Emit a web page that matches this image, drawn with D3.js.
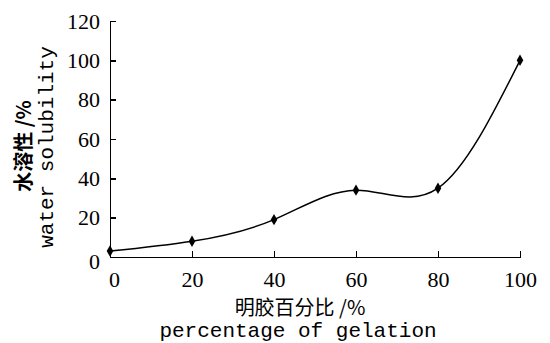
<!DOCTYPE html>
<meta charset="utf-8">
<style>
    body { margin: 0; background: #fff; }
    .axis path, .axis line { fill: none; stroke: black; stroke-width: 1.5; shape-rendering: crispEdges; }
    .axis text { font-family: "Liberation Serif", serif; font-size: 22px; fill: black; }
    .cn { font-family: "Noto Sans CJK SC", sans-serif; font-size: 20px; }
    .en { font-family: "Liberation Mono", monospace; font-size: 21px; }
</style>
<div class="chart"></div>
<script src="https://cdnjs.cloudflare.com/ajax/libs/d3/7.8.5/d3.min.js"></script>
<script>
    // gelatin percentage vs water solubility
    var gelation = [0, 20, 40, 60, 80, 100];
    var solubility = [3, 8, 19, 34, 35, 100];
    var xTicks = [0, 20, 40, 60, 80, 100];
    var yTicks = [0, 20, 40, 60, 80, 100, 120];

    var W = 550, H = 343;
    var margin = {top: 21, right: 30, bottom: 86, left: 110},
        width = 520 - margin.left,
        height = 257 - margin.top;

    var svg = d3.select('.chart').append('svg')
        .attr('width', W)
        .attr('height', H);

    var g = svg.append('g')
        .attr('transform', 'translate(' + margin.left + ',' + margin.top + ')');

    var x = d3.scaleLinear().domain([0, 100]).range([0, width]);
    var y = d3.scaleLinear().domain([0, 120]).range([height, 0]);

    var xAxis = d3.axisBottom(x).tickValues(xTicks).tickSize(-6).tickSizeOuter(0).tickPadding(14);
    var yAxis = d3.axisLeft(y).tickValues(yTicks).tickSize(-6).tickSizeOuter(0).tickPadding(10);

    g.append('g').attr('class', 'x axis')
        .attr('transform', 'translate(0,' + height + ')')
        .call(xAxis)
        .selectAll('text')
        .attr('dx', function(d) { return d == 0 ? 4 : 0; });

    g.append('g').attr('class', 'y axis')
        .call(yAxis)
        .selectAll('text')
        .attr('dy', function(d) { return d == 0 ? '0.5em' : '0.32em'; });

    var pts = gelation.map(function(d, i) { return {x: d, y: solubility[i]}; });

    var line = d3.line()
        .x(function(d) { return x(d.x); })
        .y(function(d) { return y(d.y); })
        .curve(d3.curveNatural);

    g.append('path')
        .datum(pts)
        .attr('d', line)
        .attr('fill', 'none')
        .attr('stroke', 'black')
        .attr('stroke-width', 1.5);

    g.selectAll('.pt')
        .data(pts)
        .enter().append('path')
        .attr('class', 'pt')
        .attr('d', d3.symbol().type(d3.symbolDiamond).size(38))
        .attr('transform', function(d) { return 'translate(' + x(d.x) + ',' + y(d.y) + ')'; })
        .attr('fill', 'black');

    // axis titles
    svg.append('text').attr('class', 'cn')
        .attr('x', 300).attr('y', 315)
        .attr('text-anchor', 'middle')
        .text('明胶百分比 /%');
    svg.append('text').attr('class', 'en')
        .attr('x', 298).attr('y', 337)
        .attr('text-anchor', 'middle')
        .text('percentage of gelation');

    svg.append('text').attr('class', 'cn')
        .attr('transform', 'translate(31,146) rotate(-90)')
        .attr('text-anchor', 'middle')
        .attr('font-weight', 'bold')
        .text('水溶性 /%');
    svg.append('text').attr('class', 'en')
        .attr('transform', 'translate(53,147) rotate(-90)')
        .attr('text-anchor', 'middle')
        .text('water solubility');
</script>
